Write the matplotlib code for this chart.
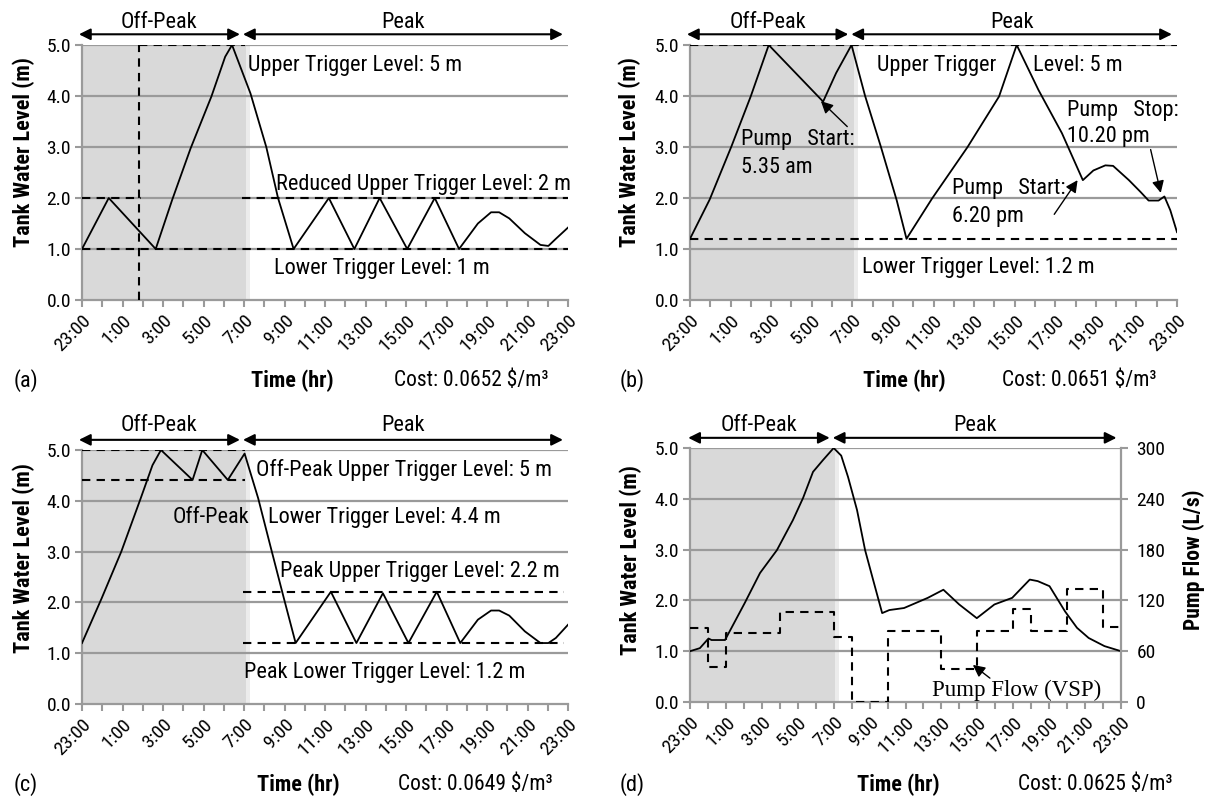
import matplotlib
matplotlib.use('Agg')
import matplotlib.pyplot as plt

# narrow font, close to the Arial Narrow of the original
NARROW = ['Roboto Condensed', 'Archivo Narrow', 'Liberation Sans']
plt.rcParams['font.family'] = NARROW

# x axis: hours after 23:00
tick_hours = list(range(0, 25))
tick_labels = ['23:00', '1:00', '3:00', '5:00', '7:00', '9:00', '11:00', '13:00',
               '15:00', '17:00', '19:00', '21:00', '23:00']

# (a) reduced upper trigger level
hours_a = [0, 1.32, 3.64, 4.45, 5.36, 6.39, 7.07, 7.41, 8.32, 9.1, 9.68, 10.45, 12.19, 13.45,
           14.7, 16.06, 17.42, 18.62, 19.55, 20.2, 20.6, 21.1, 21.87, 22.64, 23.03, 23.4, 24]
level_a = [1.0, 2.0, 1.0, 1.96, 2.97, 3.99, 4.77, 5.0, 4.05, 3.0, 2.0, 1.0, 2.0, 1.0,
           2.0, 1.0, 2.0, 1.0, 1.5, 1.72, 1.72, 1.6, 1.31, 1.08, 1.06, 1.2, 1.42]

# (b) pump start / stop times
hours_b = [0, 0.97, 2.04, 3.0, 3.88, 6.56, 7.2, 7.96, 8.63, 9.41, 10.19, 10.67, 11.93, 13.68,
           15.23, 16.1, 17.17, 18.33, 19.36, 19.88, 20.47, 20.85, 21.63, 22.2, 22.6, 23.09,
           23.38, 23.67, 24]
level_b = [1.2, 1.97, 3.01, 4.0, 5.0, 3.89, 4.45, 5.0, 4.0, 3.0, 1.95, 1.2, 1.99, 3.0,
           3.99, 5.0, 4.12, 3.27, 2.35, 2.54, 2.64, 2.63, 2.35, 2.12, 1.95, 1.95,
           2.03, 1.76, 1.33]

# (c) separate off-peak / peak triggers
hours_c = [0, 0.97, 1.94, 2.9, 3.48, 3.9, 5.46, 5.94, 7.2, 8.03, 8.7, 9.29, 9.97, 10.55,
           12.29, 13.55, 14.86, 16.12, 17.52, 18.68, 19.55, 20.2, 20.6, 21.1, 21.87, 22.64,
           23.03, 23.4, 24]
level_c = [1.2, 2.08, 3.0, 4.05, 4.7, 5.0, 4.41, 5.0, 4.41, 4.93, 4.05, 3.13, 2.08, 1.2,
           2.21, 1.2, 2.18, 1.2, 2.21, 1.2, 1.66, 1.84, 1.84, 1.74, 1.43, 1.2,
           1.2, 1.3, 1.56]

# (d) variable speed pump
hours_d = [0, 0.55, 1.03, 1.2, 1.95, 3.05, 3.9, 4.84, 5.73, 6.3, 6.85, 7.4, 8.0, 8.42,
           8.8, 9.3, 9.75, 10.2, 10.7, 11.1, 11.92, 13.24, 14.11, 14.99, 15.97, 16.95,
           17.94, 18.92, 19.36, 20.02, 20.89, 21.55, 22.2, 23.08, 24]
level_d = [1.0, 1.06, 1.25, 1.22, 1.22, 1.95, 2.54, 2.99, 3.58, 4.02, 4.53, 4.76, 5.0, 4.85,
           4.43, 3.78, 2.99, 2.4, 1.75, 1.81, 1.85, 2.05, 2.21, 1.92, 1.65, 1.92,
           2.05, 2.41, 2.38, 2.28, 1.78, 1.46, 1.26, 1.1, 1.0]
flow_hours = [0, 1, 2, 5, 8, 9, 11, 14, 16, 18, 19, 21, 23, 24]
flow_d = [87, 41, 82, 106, 77, 0, 84, 39, 84, 110, 84, 133, 88, 88]

costs = ['0.0652', '0.0651', '0.0649', '0.0625']

GRID = '#9a9a9a'
FS = 16      # notes
TFS = 14     # tick labels
BFS = 16     # bold axis titles
W, H = 1213, 797


def fx(px):
    return px / W


def fy(py):
    return 1 - py / H


def base_axes(fig, rect, hours, level):
    ax = fig.add_axes(rect)
    ax.axvspan(0, 8.1, color='#d9d9d9', lw=0, zorder=0)
    ax.axvspan(8.1, 8.3, color='#ececec', lw=0, zorder=0)
    for y in [1, 2, 3, 4, 5]:
        ax.axhline(y, color=GRID, lw=1.6, zorder=1)
    ax.plot(hours, level, color='black', lw=1.3, zorder=4)
    ax.set_xlim(0, 24)
    ax.set_ylim(0, 5)
    ax.set_yticks([0, 1, 2, 3, 4, 5])
    ax.set_yticklabels(['0.0', '1.0', '2.0', '3.0', '4.0', '5.0'], fontsize=TFS)
    ax.set_xticks(tick_hours)
    ax.set_xticklabels([tick_labels[i // 2] if i % 2 == 0 else '' for i in tick_hours],
                       rotation=45, ha='right', rotation_mode='anchor', fontsize=TFS)
    ax.tick_params(axis='both', color=GRID, width=1.5, length=5, direction='out', pad=3)
    for s in ['top', 'right']:
        ax.spines[s].set_visible(False)
    for s in ['left', 'bottom']:
        ax.spines[s].set_color(GRID)
        ax.spines[s].set_linewidth(1.6)
    ax.patch.set_alpha(0)
    return ax


def period_arrows(ax, y_arrow=1.042, y_text=1.09, off=(-0.15, 7.8), peak=(7.95, 23.75)):
    tr = ax.get_xaxis_transform()
    for (a, b), name in [(off, 'Off-Peak'), (peak, 'Peak')]:
        ax.annotate('', xy=(b, y_arrow), xytext=(a, y_arrow), xycoords=tr, textcoords=tr,
                    arrowprops=dict(arrowstyle='<|-|>', color='black', lw=1.5,
                                    mutation_scale=17, shrinkA=0, shrinkB=0),
                    annotation_clip=False)
        ax.text((a + b) / 2, y_text, name, transform=tr, ha='center', va='center',
                fontsize=FS)


def dash(ax, x0, x1, y):
    ax.plot([x0, x1], [y, y], color='black', lw=1.5, ls=(0, (4, 3)), zorder=3)


def point(ax, xy, xytext):
    ax.annotate('', xy=xy, xytext=xytext,
                arrowprops=dict(arrowstyle='-|>', color='black', lw=1, mutation_scale=18,
                                shrinkA=0, shrinkB=0))


def bottom_texts(tag, tag_x, time_x, cost_x, y, cost):
    fig.text(fx(tag_x), fy(y), tag, fontsize=FS, ha='left', va='center')
    fig.text(fx(time_x), fy(y), 'Time (hr)', fontsize=BFS, ha='center', va='center',
             fontweight='bold')
    fig.text(fx(cost_x), fy(y), 'Cost: ' + cost + ' $/m\u00b3', fontsize=15.5, ha='left',
             va='center')


def ylabel(x, y, text):
    fig.text(fx(x), fy(y), text, rotation=90, fontsize=BFS, fontweight='bold',
             ha='center', va='center')


fig = plt.figure(figsize=(W / 100, H / 100), dpi=100)

# ---- (a)
ax = base_axes(fig, [fx(82), fy(300), fx(568 - 82), (300 - 45) / H], hours_a, level_a)
period_arrows(ax)
ax.plot([2.8, 2.8], [0, 5], color='black', lw=1.5, ls=(0, (4, 3)), zorder=3)
dash(ax, 2.8, 8.05, 5.0)
dash(ax, 0, 2.9, 2.0)
dash(ax, 7.9, 24, 2.0)
dash(ax, 0, 24, 1.0)
ax.text(8.2, 4.6, 'Upper Trigger Level: 5 m', fontsize=FS, va='center')
ax.text(9.6, 2.27, 'Reduced Upper Trigger Level: 2 m', fontsize=FS, va='center')
ax.text(9.5, 0.62, 'Lower Trigger Level: 1 m', fontsize=FS, va='center')
ylabel(24, 152, 'Tank Water Level (m)')
bottom_texts('(a)', 14, 292, 394, 381, costs[0])

# ---- (b)
ax = base_axes(fig, [fx(690), fy(300), fx(1177 - 690), (300 - 45) / H], hours_b, level_b)
period_arrows(ax)
dash(ax, 0, 24, 5.0)
dash(ax, 0, 24, 1.2)
ax.text(9.2, 4.6, 'Upper Trigger', fontsize=FS, va='center')
ax.text(16.9, 4.6, 'Level: 5 m', fontsize=FS, va='center')
ax.text(2.5, 3.14, 'Pump   Start:', fontsize=FS, va='center')
ax.text(2.5, 2.6, '5.35 am', fontsize=FS, va='center')
point(ax, (6.45, 3.9), (7.75, 3.4))
ax.text(18.6, 3.72, 'Pump   Stop:', fontsize=FS, va='center')
ax.text(18.6, 3.2, '10.20 pm', fontsize=FS, va='center')
point(ax, (23.2, 2.1), (22.7, 2.95))
ax.text(12.9, 2.18, 'Pump   Start:', fontsize=FS, va='center')
ax.text(12.9, 1.63, '6.20 pm', fontsize=FS, va='center')
point(ax, (19.1, 2.35), (17.95, 1.68))
ax.text(8.5, 0.64, 'Lower Trigger Level: 1.2 m', fontsize=FS, va='center')
ylabel(630, 152, 'Tank Water Level (m)')
bottom_texts('(b)', 620, 904, 1002, 381, costs[1])

# ---- (c)
ax = base_axes(fig, [fx(82), fy(704), fx(568 - 82), (704 - 450) / H], hours_c, level_c)
period_arrows(ax, y_arrow=1.04, y_text=1.095)
dash(ax, 0, 8.05, 5.0)
dash(ax, 0, 8.05, 4.4)
dash(ax, 7.95, 23.8, 2.2)
dash(ax, 7.95, 23.8, 1.2)
ax.text(8.6, 4.6, 'Off-Peak Upper Trigger Level: 5 m', fontsize=FS, va='center')
ax.text(4.5, 3.68, 'Off-Peak', fontsize=FS, va='center')
ax.text(9.2, 3.68, 'Lower Trigger Level: 4.4 m', fontsize=FS, va='center')
ax.text(9.8, 2.6, 'Peak Upper Trigger Level: 2.2 m', fontsize=FS, va='center')
ax.text(8.0, 0.62, 'Peak Lower Trigger Level: 1.2 m', fontsize=FS, va='center')
ylabel(24, 558, 'Tank Water Level (m)')
bottom_texts('(c)', 14, 298, 398, 785, costs[2])

# ---- (d)
ax = base_axes(fig, [fx(690), fy(702), fx(1121 - 690), (702 - 448) / H], hours_d, level_d)
period_arrows(ax, y_arrow=1.04, y_text=1.09, off=(-0.1, 7.78), peak=(7.95, 23.75))
ax.text(13.5, 0.22, 'Pump Flow (VSP)', fontsize=16.5, va='center',
        family=['Liberation Serif', 'DejaVu Serif'])
point(ax, (15.75, 0.73), (16.7, 0.47))
ylabel(631, 560, 'Tank Water Level (m)')
ax2 = ax.twinx()
ax2.plot(flow_hours, flow_d, drawstyle='steps-post', color='black', lw=1.5,
         ls=(0, (4, 3)))
ax2.set_ylim(0, 300)
ax2.set_xlim(0, 24)
ax2.set_yticks([0, 60, 120, 180, 240, 300])
ax2.set_yticklabels(['0', '60', '120', '180', '240', '300'], fontsize=TFS)
ax2.tick_params(axis='y', color=GRID, width=1.5, length=5, direction='out', pad=6)
for s in ['top', 'left', 'bottom']:
    ax2.spines[s].set_visible(False)
ax2.spines['right'].set_color(GRID)
ax2.spines['right'].set_linewidth(1.6)
fig.text(fx(1194), fy(560), 'Pump Flow (L/s)', rotation=90, fontsize=BFS - 0.5,
         fontweight='bold', ha='center', va='center')
bottom_texts('(d)', 620, 898, 1018, 785, costs[3])

fig.savefig('out.png', dpi=100)
